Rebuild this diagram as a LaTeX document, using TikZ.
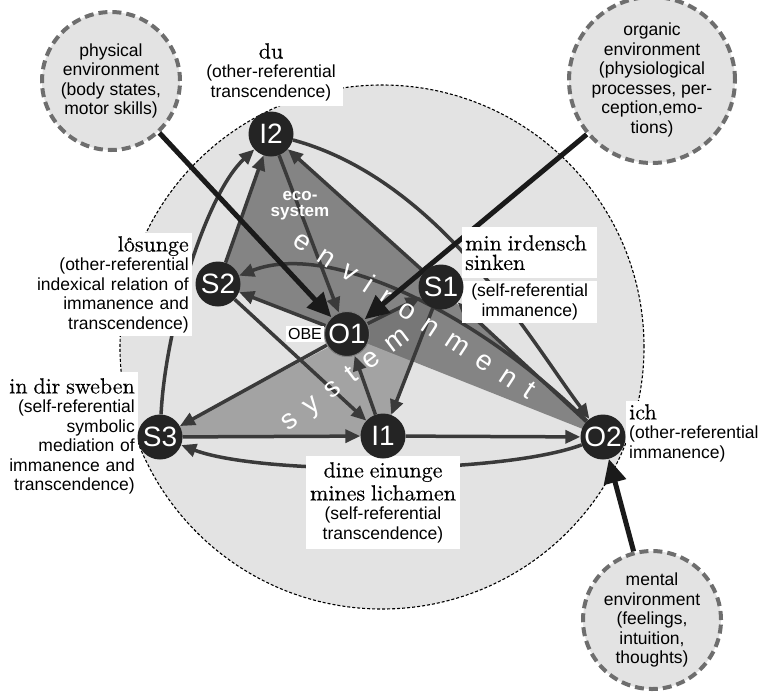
\documentclass[tikz,border=0pt]{standalone}
\usepackage{fontspec}
\setsansfont{Liberation Sans}
\newfontfamily\mhdface{lmroman10-regular.otf}[FakeBold=0.3]
\usetikzlibrary{arrows.meta}
\pgfdeclarelayer{back}
\pgfdeclarelayer{links}
\pgfsetlayers{back,links,main}
\definecolor{bglight}{HTML}{E3E3E3}
\definecolor{ecogray}{HTML}{848484}
\definecolor{sysgray}{HTML}{A3A3A3}
\definecolor{overgray}{HTML}{777777}
\definecolor{nodegray}{HTML}{242424}
\definecolor{edgegray}{HTML}{3A3A3A}
\definecolor{envdash}{HTML}{6E6E6E}
\definecolor{pushblack}{HTML}{1A1A1A}
\newcommand{\mhdfont}{\mhdface\fontsize{22}{23}\selectfont}
\newcommand{\osup}{\ooalign{o\cr\hidewidth\raisebox{0.42em}{\fontsize{10}{10}\selectfont e}\hidewidth\cr}}
\begin{document}
\begin{tikzpicture}[x=1pt,y=-1pt,
  state/.style={circle,fill=nodegray,text=white,minimum size=45pt,inner sep=0pt,font=\sffamily\fontsize{28}{28}\selectfont},
  envcircle/.style={circle,draw=envdash,fill=bglight,line width=4pt,dash pattern=on 9pt off 5pt,minimum size=138pt,inner sep=0pt,align=center,font=\sffamily\fontsize{17.5}{19.5}\selectfont},
  rel/.style={draw=edgegray,line width=3.5pt,-{Triangle[length=15pt,width=13pt]}},
  push/.style={draw=pushblack,line width=5pt,-{Triangle[length=24pt,width=22pt]}},
  lab/.style={fill=white,inner sep=3pt,font=\sffamily\fontsize{17.5}{19.5}\selectfont},
  bigletter/.style={text=white,font=\sffamily\fontsize{28}{28}\selectfont,text height=14pt,text depth=0pt,inner sep=0pt}]
\useasboundingbox (0,0) rectangle (759,694);

\node[lab,align=center,text width=137pt,anchor=north,inner ysep=5pt] (duLab) at (271,38) {{\mhdfont du\par}(other-referential\\transcendence)};
\node[lab,align=right,text width=152pt,anchor=north east] (loesLab) at (192,233) {{\mhdfont l\osup sunge\par}(other-referential\\indexical relation of\\immanence and\\transcendence)};
\node[lab,align=right,text width=134pt,anchor=north east,inner ysep=6pt] (swebLab) at (138,372) {{\mhdfont in dir sweben\par}(self-referential\\symbolic\\mediation of\\immanence and\\transcendence)};
\node[lab,align=left,text width=129pt,anchor=north west,inner ysep=8pt] (sinkLab) at (462,227) {\mhdfont min irdensch\\sinken};
\node[lab,align=center,text width=129pt,anchor=north west] (sinkNote) at (462,281) {(self-referential\\immanence)};
\node[lab,align=left,text width=132pt,anchor=north west] (ichLab) at (626,401) {{\mhdfont ich\par}(other-referential\\immanence)};
\node[lab,align=center,text width=150pt,inner xsep=2pt,anchor=north,inner ysep=6pt] (einLab) at (383,456) {{\mhdfont dine einunge\\\mbox{mines lichamen}\par}(self-referential\\transcendence)};
\node[lab,inner sep=2pt,font=\sffamily\fontsize{16}{16}\selectfont] (obe) at (305,334) {OBE};

\node[state] (I2) at (271,134) {I2};
\node[state] (S2) at (218,284) {S2};
\node[state] (S1) at (441,287) {S1};
\node[state,draw=gray,line width=1pt] (O1) at (347,334) {O1};
\node[state] (S3) at (160,437) {S3};
\node[state] (I1) at (383,436) {I1};
\node[state] (O2) at (603,437) {O2};

\node[envcircle] (phys) at (111,81) {physical\\environment\\(body states,\\motor skills)};
\node[envcircle] (org) at (652,80) {organic\\environment\\(physiological\\processes, per-\\ception,emo-\\tions)};
\node[envcircle] (ment) at (652,620) {mental\\environment\\(feelings,\\intuition,\\thoughts)};

\node[text=white,align=center,font=\sffamily\bfseries\fontsize{17}{16}\selectfont] (eco) at (300,206) {eco-\\system};

\begin{pgfonlayer}{back}
\fill[bglight] (382,347) circle (262pt);
\fill[sysgray] (S3.center) -- (S1.center) -- (I1.center) -- cycle;
\fill[ecogray] (I2.center) -- (S2.center) -- (O2.center) -- cycle;
\begin{scope}
\clip (I2.center) -- (S2.center) -- (O2.center) -- cycle;
\fill[overgray] (S3.center) -- (S1.center) -- (I1.center) -- cycle;
\end{scope}
\draw[black,line width=1.1pt,dash pattern=on 3pt off 2pt] (382,347) circle (262pt);
\end{pgfonlayer}

\begin{pgfonlayer}{links}
\draw[rel] (S2) -- (I2);
\draw[rel] (S3) .. controls (165,330) and (205,195) .. (I2);
\draw[rel] (S1) -- (I2);
\draw[rel] (I2) .. controls (440,180) and (530,340) .. (O2);
\draw[rel] (I2) -- (O1);
\draw[rel] (O1) -- (S1);
\draw[rel] (O1) -- (S2);
\draw[rel] (O1) -- (S3);
\draw[rel] (O2) .. controls (480,315) and (330,240) .. (S2);
\draw[rel] (O2) -- (S1);
\draw[rel] (S2) -- (I1);
\draw[rel] (S1) -- (I1);
\draw[rel] (S3) -- (I1);
\draw[rel] (I1) -- (O1);
\draw[rel] (I1) -- (O2);
\draw[rel] (O2) .. controls (500,475) and (260,475) .. (S3);

\foreach \ch/\d [count=\k] in {e/0,n/28.5,v/56.2,i/79.2,r/99.8,o/125.2,n/153.6,m/186,e/218.3,n/246.8,t/271.3}
  \node[bigletter,rotate=-33.4] (envl\k) at ({302+0.835*\d},{243+0.550*\d}) {\ch};
\foreach \ch/\d [count=\k] in {s/0,y/26.9,s/53.8,t/77.6,e/102.2,m/134.5}
  \node[bigletter,rotate=37] (sysl\k) at ({290+0.799*\d},{422-0.602*\d}) {\ch};

\draw[push] (phys) -- (O1);
\draw[push] (org) -- (O1);
\draw[push] (ment) -- (O2);
\end{pgfonlayer}
\end{tikzpicture}
\end{document}
